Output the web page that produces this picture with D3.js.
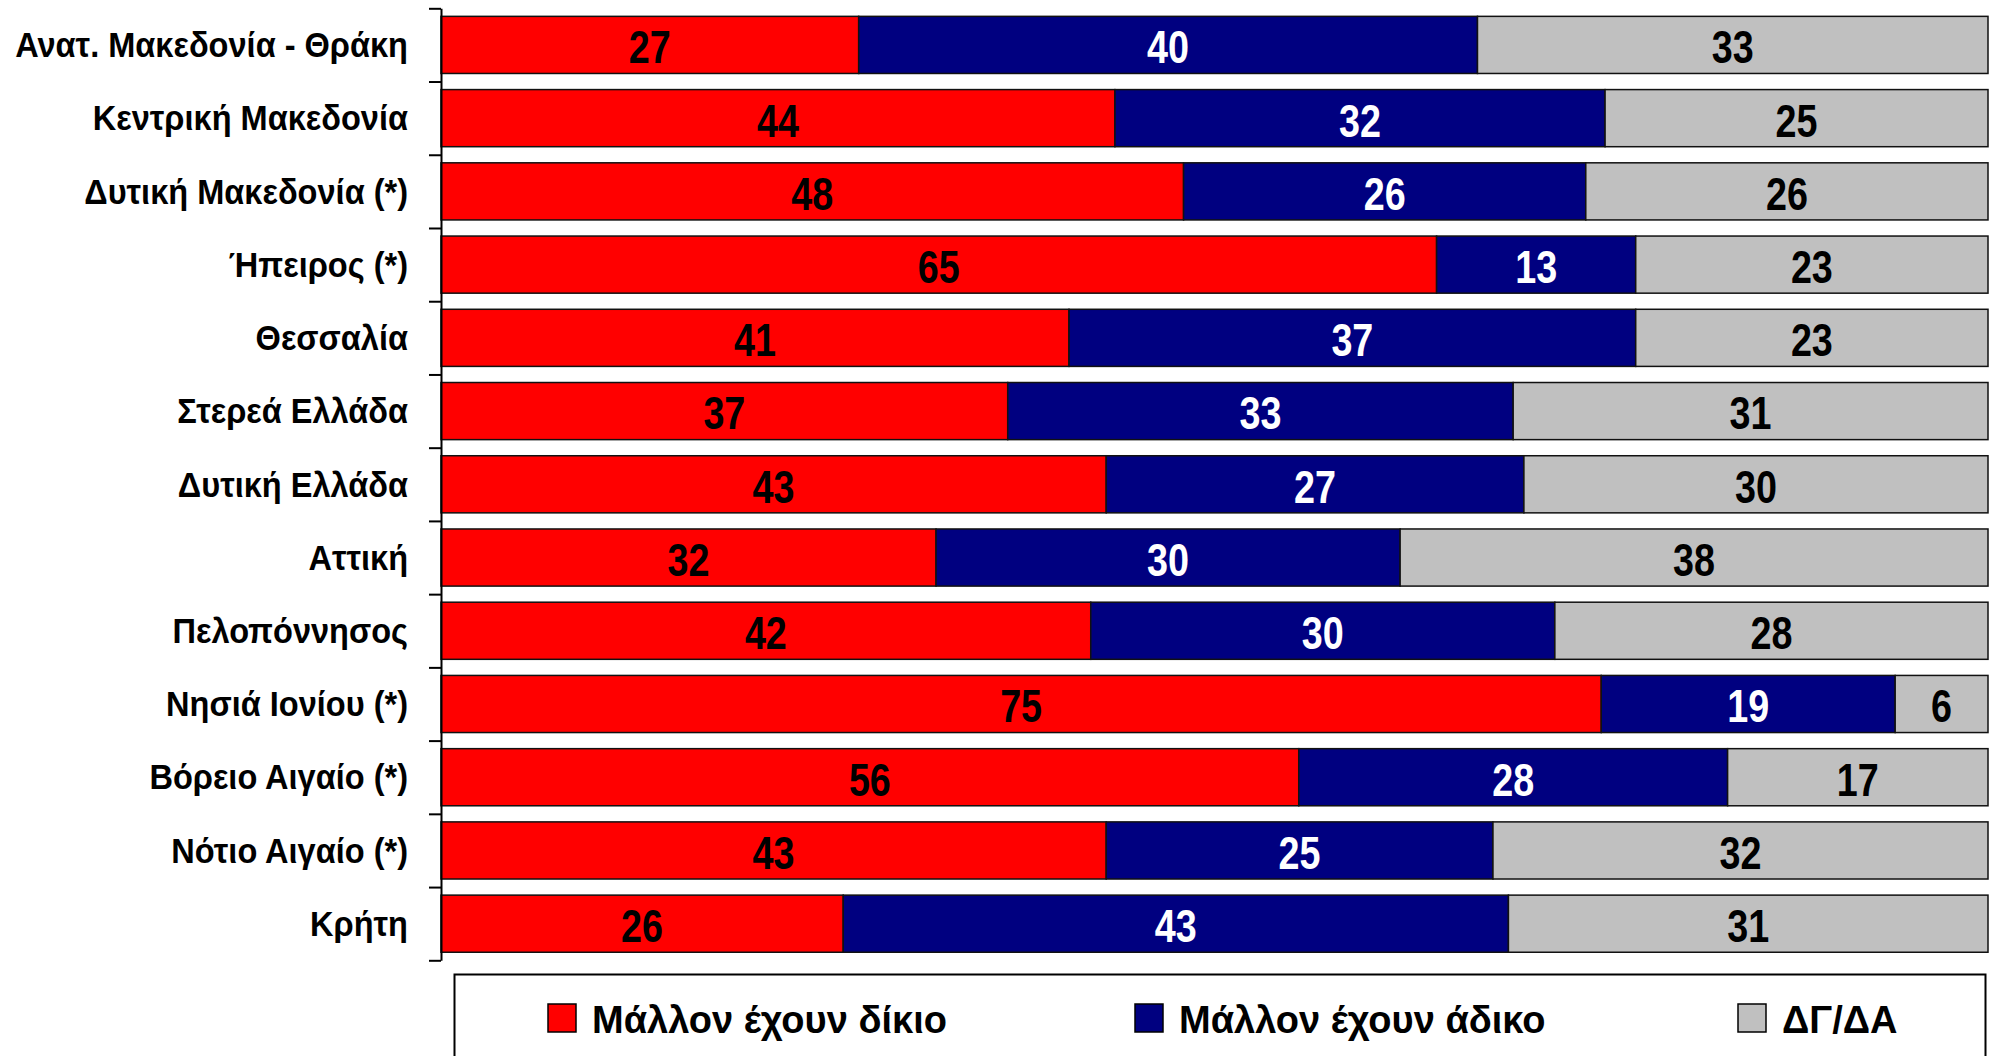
<!DOCTYPE html>
<html>
<head>
<meta charset="utf-8">
<script src="https://cdn.jsdelivr.net/npm/d3@7"></script>
<style>
  body { margin: 0; background: #fff; }
  svg text { font-family: "Liberation Sans Narrow", "Arial Narrow", "Liberation Sans", Arial, sans-serif; font-weight: bold; }
</style>
</head>
<body>
<svg id="chart"></svg>
<script>
// regions (top to bottom)
const regions = [
  "Ανατ. Μακεδονία - Θράκη", "Κεντρική Μακεδονία", "Δυτική Μακεδονία (*)", "Ήπειρος (*)",
  "Θεσσαλία", "Στερεά Ελλάδα", "Δυτική Ελλάδα", "Αττική", "Πελοπόννησος",
  "Νησιά Ιονίου (*)", "Βόρειο Αιγαίο (*)", "Νότιο Αιγαίο (*)", "Κρήτη"
];
const seriesNames = ["Μάλλον έχουν δίκιο", "Μάλλον έχουν άδικο", "ΔΓ/ΔΑ"];
const right = [27, 44, 48, 65, 41, 37, 43, 32, 42, 75, 56, 43, 26];
const wrong = [40, 32, 26, 13, 37, 33, 27, 30, 30, 19, 28, 25, 43];
const dk    = [33, 25, 26, 23, 23, 31, 30, 38, 28, 6, 17, 32, 31];
const colors = ["#ff0000", "#000080", "#c0c0c0"];
const labelColors = ["#000", "#fff", "#000"];

const W = 1991, H = 1056;
const margin = { top: 8.3, left: 441, right: 3, bottom: 95.7 };
const width = W - margin.left - margin.right;
const height = H - margin.top - margin.bottom;

const svg = d3.select('#chart').attr('width', W).attr('height', H);

// the original uses a narrower typeface: squeeze text horizontally around its anchor
function condense(sel, k) {
  sel.each(function() {
    const t = d3.select(this);
    const ax = +t.attr('x') || 0;
    t.attr('transform', `translate(${ax * (1 - k)},0) scale(${k},1)`);
  });
}

// 100% stacked rows
const data = regions.map((r, i) => ({ region: r, s0: right[i], s1: wrong[i], s2: dk[i] }));
const stack = d3.stack().keys(["s0", "s1", "s2"]).offset(d3.stackOffsetExpand);
const series = stack(data);

const y = d3.scaleBand().domain(regions).range([0, height]).paddingInner(0.22).paddingOuter(0.11);
const x = d3.scaleLinear().domain([0, 1]).range([0, width]);

const chart = svg.append('g').attr('transform', `translate(${margin.left},${margin.top})`);

series.forEach((s, k) => {
  const g = chart.append('g');
  g.selectAll('rect')
    .data(s)
    .join('rect')
    .attr('x', d => x(d[0]))
    .attr('y', d => y(d.data.region))
    .attr('width', d => x(d[1]) - x(d[0]))
    .attr('height', y.bandwidth())
    .attr('fill', colors[k])
    .attr('stroke', '#111')
    .attr('stroke-width', 1.5);

  g.selectAll('text')
    .data(s)
    .join('text')
    .attr('x', d => x((d[0] + d[1]) / 2))
    .attr('y', d => y(d.data.region) + y.bandwidth() / 2)
    .attr('dy', '0.4em')
    .attr('text-anchor', 'middle')
    .attr('fill', labelColors[k])
    .style('font-size', '46px')
    .text(d => d.data["s" + k])
    .call(condense, 0.82);
});

// axis with ticks between the categories
const yBound = d3.scaleLinear().domain([0, regions.length]).range([0, height]);
chart.append('g')
  .call(d3.axisLeft(yBound).ticks(regions.length).tickSize(12).tickSizeOuter(0).tickFormat(''))
  .call(g => g.select('.domain').attr('stroke', '#000').attr('stroke-width', 2))
  .call(g => g.selectAll('.tick line').attr('stroke', '#000').attr('stroke-width', 2));

chart.append('g')
  .call(d3.axisLeft(y).tickSize(0).tickPadding(33))
  .call(g => g.select('.domain').remove())
  .selectAll('text')
  .attr('fill', '#000')
  .attr('dy', '0.35em')
  .style('font-size', '35px')
  .call(condense, 0.93);

// legend
const legend = svg.append('g');
legend.append('rect')
  .attr('x', 454.5).attr('y', 974.5).attr('width', 1531).attr('height', 120)
  .attr('fill', '#fff').attr('stroke', '#000').attr('stroke-width', 2);

const legendX = [548, 1135, 1738];
const items = legend.selectAll('g.item')
  .data(seriesNames)
  .join('g')
  .attr('class', 'item')
  .attr('transform', (d, i) => `translate(${legendX[i]},1004)`);
items.append('rect')
  .attr('width', 28).attr('height', 28)
  .attr('fill', (d, i) => colors[i])
  .attr('stroke', '#000').attr('stroke-width', 1.5);
items.append('text')
  .attr('x', 44).attr('y', 29)
  .attr('fill', '#000')
  .style('font-size', '38px')
  .text(d => d);
</script>
</body>
</html>
